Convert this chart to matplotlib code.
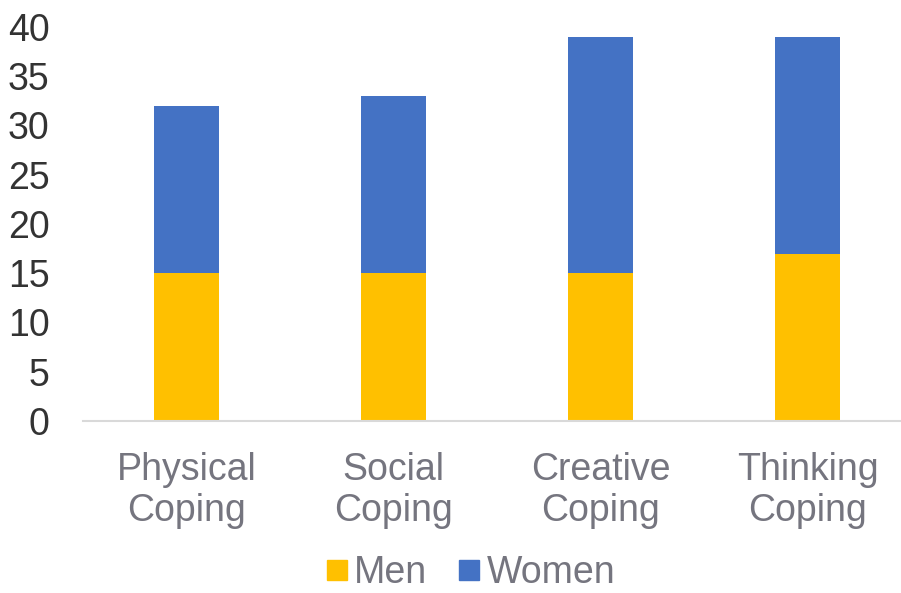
import matplotlib
matplotlib.use("Agg")
import matplotlib.pyplot as plt
from matplotlib.patches import Patch
import numpy as np

categories = ["Physical\nCoping", "Social\nCoping", "Creative\nCoping", "Thinking\nCoping"]
men = [15, 15, 15, 17]
women = [17, 18, 24, 22]
yticks = [0, 5, 10, 15, 20, 25, 30, 35, 40]

plt.rcParams['font.family'] = ['Liberation Sans', 'DejaVu Sans']

fig = plt.figure(figsize=(9.01, 5.93), dpi=100)
ax = fig.add_axes([83/901, 172/593, 828/901, 394/593])

x = np.arange(len(categories))
yellow = '#FFC000'
blue = '#4472C4'
w = 0.315
ax.bar(x, men, width=w, color=yellow, label='Men', zorder=2)
ax.bar(x, women, width=w, bottom=men, color=blue, label='Women', zorder=2)

ax.set_xlim(-0.5, len(categories) - 0.5)
ax.set_ylim(0, 40)
ax.set_yticks(yticks)
ax.set_yticklabels([str(t) for t in yticks], fontsize=27, color='#333333')
ax.set_xticks(x)
ax.set_xticklabels(categories, fontsize=27, color='#75757f', linespacing=1.2)
ax.tick_params(axis='y', length=0, pad=24)
ax.tick_params(axis='x', length=0, pad=22)

for s in ['top', 'right', 'left']:
    ax.spines[s].set_visible(False)
ax.spines['bottom'].set_color('#d9d9d9')
ax.spines['bottom'].set_linewidth(1.5)
ax.spines['bottom'].set_zorder(3)

handles = [Patch(color=yellow, label='Men'), Patch(color=blue, label='Women')]
leg = fig.legend(handles=handles, loc='center', bbox_to_anchor=(471/901, 1 - 573/593),
                 ncol=2, frameon=False, fontsize=27, handlelength=0.53, handleheight=0.45,
                 handletextpad=0.2, columnspacing=0.85, borderpad=0)
for t in leg.get_texts():
    t.set_color('#75757f')

fig.savefig('out.png', dpi=100)
